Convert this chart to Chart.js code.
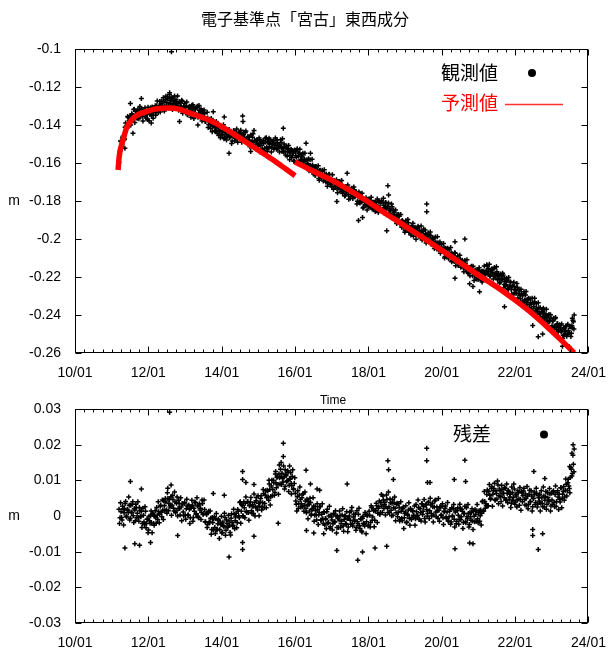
<!DOCTYPE html>
<html><head><meta charset="utf-8">
<script src="https://cdn.jsdelivr.net/npm/chart.js@4/dist/chart.umd.min.js"></script>
<style>
html,body{margin:0;padding:0;background:#fff;}
#wrap{position:relative;width:610px;height:648px;overflow:hidden;}
canvas{position:absolute;left:0;}
#c1{top:0;} #c2{top:392px;}
</style></head><body>
<div id="wrap"><canvas id="c1" width="610" height="392"></canvas><canvas id="c2" width="610" height="256"></canvas></div>
<script>
// ---- axis definitions ----
const xMin = 2010, xMax = 2024, xStep = 2;
const topMin = -0.26, topMax = -0.1, topStep = 0.02;
const resMin = -0.03, resMax = 0.03, resStep = 0.01;

// ---- observation sampling: two interleaved series of samples (decimal year) ----
const obsStep = 1/36;
const obsStartA = 2011.2;
const obsStartB = 2011.2139;

// observed east-west component (m), upper panel, series A
const obsValuesA = [
-.1598,-.1538,-.1487,-.1502,-.1459,-.1477,-.1412,-.1407,-.1407,-.1360,-.1378,-.1353,-.1382,-.1347,-.1368,-.1317,-.1350,-.1330,-.1365,-.1336,-.1320,-.1347,-.1317,-.1354,-.1334,-.1323,-.1355,-.1339,-.1371,-.1333,-.1343,-.1309,-.1351,-.1326,-.1335,-.1308,
-.1349,-.1299,-.1310,-.1317,-.1276,-.1298,-.1277,-.1310,-.1277,-.1301,-.1249,-.1283,-.1262,-.1299,-.1273,-.1259,-.1287,-.1258,-.1295,-.1276,-.1267,-.1299,-.1284,-.1317,-.1284,-.1301,-.1275,-.1323,-.1306,-.1321,-.1300,-.1346,-.1327,-.1301,-.1338,-.1315,
-.1328,-.1311,-.1348,-.1319,-.1348,-.1301,-.1339,-.1322,-.1359,-.1336,-.1328,-.1362,-.1339,-.1381,-.1367,-.1363,-.1398,-.1384,-.1418,-.1387,-.1408,-.1382,-.1431,-.1414,-.1430,-.1409,-.1455,-.1437,-.1414,-.1452,-.1430,-.1472,-.1430,-.1447,-.1461,-.1428,
-.1424,-.1462,-.1446,-.1484,-.1458,-.1446,-.1471,-.1440,-.1474,-.1452,-.1438,-.1467,-.1449,-.1482,-.1450,-.1467,-.1440,-.1488,-.1470,-.1484,-.1463,-.1508,-.1490,-.1465,-.1504,-.1482,-.1524,-.1481,-.1498,-.1512,-.1478,-.1507,-.1490,-.1526,-.1497,-.1524,
-.1489,-.1517,-.1487,-.1522,-.1500,-.1488,-.1517,-.1498,-.1528,-.1492,-.1507,-.1478,-.1524,-.1503,-.1515,-.1492,-.1539,-.1522,-.1500,-.1541,-.1521,-.1565,-.1525,-.1543,-.1560,-.1529,-.1561,-.1548,-.1589,-.1541,-.1570,-.1525,-.1564,-.1548,-.1587,-.1565,
-.1555,-.1591,-.1579,-.1614,-.1584,-.1604,-.1578,-.1629,-.1613,-.1629,-.1610,-.1658,-.1640,-.1618,-.1657,-.1637,-.1681,-.1639,-.1659,-.1674,-.1643,-.1674,-.1660,-.1700,-.1674,-.1705,-.1661,-.1700,-.1686,-.1726,-.1703,-.1692,-.1722,-.1695,-.1735,-.1717,
-.1729,-.1702,-.1750,-.1733,-.1748,-.1727,-.1771,-.1752,-.1727,-.1766,-.1744,-.1785,-.1742,-.1759,-.1774,-.1742,-.1773,-.1761,-.1801,-.1776,-.1808,-.1765,-.1805,-.1793,-.1833,-.1807,-.1793,-.1821,-.1791,-.1829,-.1809,-.1798,-.1830,-.1812,-.1843,-.1807,
-.1805,-.1848,-.1826,-.1800,-.1836,-.1812,-.1852,-.1807,-.1824,-.1840,-.1809,-.1841,-.1827,-.1868,-.1842,-.1874,-.1830,-.1870,-.1858,-.1900,-.1880,-.1871,-.1904,-.1880,-.1922,-.1908,-.1902,-.1938,-.1923,-.1956,-.1923,-.1941,-.1914,-.1963,-.1944,-.1960,
-.1944,-.1986,-.1943,-.1961,-.1974,-.1941,-.1970,-.1954,-.1992,-.1964,-.1993,-.1948,-.1987,-.1973,-.2013,-.1989,-.1978,-.2008,-.1982,-.2022,-.2004,-.1996,-.2030,-.2017,-.2052,-.2020,-.2040,-.2016,-.2065,-.2049,-.2065,-.2045,-.2092,-.2074,-.2052,-.2091,
-.2056,-.2088,-.2073,-.2114,-.2087,-.2118,-.2075,-.2114,-.2101,-.2140,-.2118,-.2107,-.2137,-.2112,-.2152,-.2135,-.2127,-.2161,-.2148,-.2182,-.2150,-.2170,-.2143,-.2193,-.2175,-.2188,-.2166,-.2211,-.2191,-.2166,-.2204,-.2182,-.2220,-.2170,-.2179,-.2185,
-.2186,-.2136,-.2174,-.2157,-.2195,-.2169,-.2156,-.2184,-.2157,-.2198,-.2180,-.2172,-.2207,-.2193,-.2228,-.2195,-.2215,-.2189,-.2239,-.2222,-.2239,-.2219,-.2266,-.2249,-.2226,-.2266,-.2247,-.2290,-.2250,-.2269,-.2286,-.2254,-.2287,-.2273,-.2314,-.2288,
-.2299,-.2288,-.2321,-.2295,-.2336,-.2319,-.2312,-.2346,-.2334,-.2368,-.2336,-.2356,-.2331,-.2381,-.2365,-.2381,-.2362,-.2409,-.2393,-.2371,-.2411,-.2392,-.2435,-.2395,-.2414,-.2430,-.2398,-.2430,-.2416,-.2457,-.2432,-.2463,-.2419,-.2460,-.2446,-.2488,
-.2463,-.2455,-.2490,-.2476,-.2507,-.2472,-.2487,-.2457,-.2503,-.2481,-.2494,-.2462,-.2496,-.2468,-.2435
];
// observed, series B (interleaved samples)
const obsValuesB = [
-.1565,-.1484,-.1522,-.1466,-.1462,-.1474,-.1390,-.1413,-.1355,-.1408,-.1367,-.1400,-.1341,-.1360,-.1318,-.1387,-.1328,-.1362,-.1317,-.1367,-.1302,-.1350,-.1318,-.1379,-.1332,-.1309,-.1363,-.1345,-.1307,-.1377,-.1324,-.1344,-.1305,-.1365,-.1322,-.1299,
-.1331,-.1274,-.1334,-.1297,-.1332,-.1275,-.1296,-.1257,-.1326,-.1267,-.1299,-.1253,-.1302,-.1239,-.1288,-.1257,-.1318,-.1271,-.1248,-.1302,-.1285,-.1247,-.1322,-.1277,-.1304,-.1270,-.1338,-.1301,-.1285,-.1328,-.1279,-.1343,-.1309,-.1326,-.1359,-.1296,
-.1293,-.1366,-.1311,-.1348,-.1306,-.1359,-.1297,-.1346,-.1315,-.1379,-.1338,-.1321,-.1380,-.1366,-.1333,-.1413,-.1370,-.1398,-.1366,-.1435,-.1401,-.1385,-.1429,-.1381,-.1445,-.1412,-.1432,-.1467,-.1407,-.1449,-.1399,-.1466,-.1437,-.1479,-.1429,-.1456,
-.1466,-.1436,-.1498,-.1452,-.1429,-.1484,-.1462,-.1421,-.1491,-.1442,-.1464,-.1427,-.1491,-.1454,-.1438,-.1480,-.1431,-.1494,-.1461,-.1479,-.1514,-.1453,-.1496,-.1446,-.1513,-.1483,-.1526,-.1476,-.1502,-.1468,-.1542,-.1488,-.1525,-.1481,-.1534,-.1470,
-.1467,-.1540,-.1492,-.1515,-.1478,-.1542,-.1501,-.1480,-.1520,-.1468,-.1528,-.1493,-.1510,-.1542,-.1478,-.1519,-.1472,-.1540,-.1513,-.1558,-.1510,-.1539,-.1508,-.1583,-.1532,-.1573,-.1534,-.1591,-.1532,-.1562,-.1532,-.1595,-.1550,-.1528,-.1583,-.1568,
-.1549,-.1595,-.1549,-.1614,-.1584,-.1605,-.1641,-.1583,-.1628,-.1580,-.1649,-.1623,-.1666,-.1619,-.1646,-.1614,-.1691,-.1638,-.1679,-.1638,-.1695,-.1635,-.1687,-.1659,-.1723,-.1679,-.1659,-.1714,-.1698,-.1662,-.1738,-.1694,-.1721,-.1688,-.1756,-.1719,
-.1698,-.1741,-.1692,-.1760,-.1731,-.1774,-.1724,-.1750,-.1716,-.1791,-.1737,-.1775,-.1733,-.1787,-.1726,-.1778,-.1750,-.1816,-.1772,-.1753,-.1810,-.1795,-.1759,-.1837,-.1793,-.1818,-.1783,-.1848,-.1808,-.1790,-.1831,-.1780,-.1842,-.1806,-.1823,-.1855,
-.1824,-.1789,-.1860,-.1805,-.1841,-.1797,-.1850,-.1786,-.1836,-.1808,-.1873,-.1830,-.1810,-.1867,-.1851,-.1816,-.1892,-.1848,-.1878,-.1848,-.1919,-.1885,-.1871,-.1917,-.1871,-.1938,-.1908,-.1930,-.1965,-.1904,-.1947,-.1898,-.1965,-.1937,-.1979,-.1931,
-.1917,-.1968,-.1938,-.2001,-.1954,-.1933,-.1987,-.1969,-.1931,-.2005,-.1959,-.1986,-.1953,-.2021,-.1985,-.1968,-.2012,-.1963,-.2027,-.1995,-.2014,-.2050,-.1990,-.2035,-.1988,-.2056,-.2029,-.2075,-.2027,-.2056,-.2024,-.2100,-.2049,-.2088,-.2049,-.2104,
-.2080,-.2045,-.2120,-.2077,-.2104,-.2072,-.2141,-.2104,-.2089,-.2132,-.2085,-.2149,-.2116,-.2137,-.2173,-.2113,-.2157,-.2109,-.2178,-.2150,-.2194,-.2147,-.2174,-.2143,-.2218,-.2163,-.2201,-.2160,-.2213,-.2151,-.2201,-.2171,-.2226,-.2172,-.2142,-.2188,
-.2164,-.2142,-.2184,-.2133,-.2195,-.2160,-.2178,-.2211,-.2150,-.2195,-.2146,-.2214,-.2187,-.2231,-.2184,-.2211,-.2180,-.2256,-.2205,-.2245,-.2206,-.2262,-.2203,-.2255,-.2227,-.2291,-.2248,-.2228,-.2285,-.2269,-.2234,-.2310,-.2268,-.2296,-.2265,-.2333,
-.2338,-.2278,-.2324,-.2276,-.2345,-.2317,-.2362,-.2314,-.2344,-.2312,-.2388,-.2337,-.2378,-.2339,-.2396,-.2336,-.2389,-.2362,-.2427,-.2384,-.2364,-.2421,-.2405,-.2370,-.2446,-.2402,-.2430,-.2399,-.2467,-.2432,-.2417,-.2461,-.2413,-.2478,-.2446,-.2468,
-.2451,-.2480,-.2448,-.2523,-.2467,-.2504,-.2460,-.2512,-.2449,-.2496,-.2461,-.2513,-.2457,-.2427,-.2474
];

// isolated observed points away from the band
const obsOutT = [2011.36,2011.51,2011.58,2011.81,2012.08,2012.58,2012.63,2012.85,2013.35,2013.77,2014.07,2014.20,2014.57,2014.58,2014.79,2014.88,2015.29,2015.68,2016.30,2016.42,2017.14,2017.42,2017.73,2017.84,2018.50,2018.53,2018.55,2019.59,2019.59,2020.36,2020.36,2020.63,2020.76,2020.85,2021.03,2021.71,2022.48,2022.53,2022.63,2022.75,2022.79,2023.29,2023.47,2023.56,2023.61];
const obsOutV = [-.1522,-.1287,-.1444,-.1260,-.1390,-.1230,-.1015,-.1382,-.1400,-.1330,-.1358,-.1549,-.1352,-.1382,-.1540,-.1429,-.1470,-.1417,-.1496,-.1549,-.1802,-.1654,-.1903,-.1887,-.1956,-.1720,-.1768,-.1816,-.1856,-.2014,-.2206,-.2000,-.2235,-.2250,-.2277,-.2356,-.2455,-.2312,-.2514,-.2500,-.2373,-.2565,-.2566,-.2417,-.2400];

// predicted curve: segment before and after 2016/01
const pred1T = [2011.175,2011.20,2011.23,2011.27,2011.33,2011.40,2011.50,2011.60,2011.75,2011.90,2012.10,2012.30,2012.50,2012.70,2012.90,2013.10,2013.40,2013.70,2014.00,2014.30,2014.60,2014.90,2015.20,2015.50,2015.75,2016.00];
const pred1V = [-.1637,-.1575,-.1535,-.1505,-.1465,-.1418,-.1385,-.1362,-.1342,-.1332,-.1320,-.1313,-.1310,-.1312,-.1320,-.1335,-.1355,-.1378,-.1408,-.1444,-.1482,-.1520,-.1558,-.1597,-.1632,-.1667];
const pred2T = [2016.00,2016.50,2017.00,2017.50,2018.00,2018.50,2019.00,2019.50,2020.00,2020.50,2021.00,2021.50,2022.00,2022.50,2023.00,2023.30,2023.61];
const pred2V = [-.1595,-.1643,-.1690,-.1745,-.1805,-.1870,-.1932,-.1995,-.2060,-.2125,-.2190,-.2252,-.2322,-.2398,-.2485,-.2540,-.2600];

// residuals (m), lower panel, series A
const resValuesA = [
.0019,-.0005,.0012,-.0011,.0020,.0009,.0035,.0000,.0019,.0010,.0030,-.0006,.0011,.0033,.0001,.0021,-.0013,.0023,.0008,-.0004,.0024,-.0001,.0013,-.0021,.0002,-.0024,.0013,-.0021,-.0009,-.0039,-.0013,.0001,-.0020,.0008,-.0021,-.0001,
-.0005,.0024,-.0010,.0012,.0005,.0030,-.0002,.0017,.0043,.0015,.0039,.0008,.0049,.0035,.0025,.0054,.0030,.0046,.0014,.0039,.0014,.0053,.0021,.0035,.0003,.0025,.0035,.0011,.0035,.0003,.0020,.0028,.0003,.0019,-.0005,.0026,
.0030,-.0004,.0013,.0037,.0006,.0028,-.0005,.0034,.0022,.0010,.0035,.0007,.0018,-.0017,.0004,-.0024,.0013,-.0019,-.0006,-.0038,-.0018,-.0008,-.0032,-.0007,-.0039,-.0022,-.0013,-.0038,-.0024,-.0048,-.0017,-.0030,-.0004,-.0040,-.0021,-.0031,
-.0014,-.0046,-.0006,-.0018,-.0026,.0005,-.0013,.0008,-.0018,.0013,-.0005,.0040,.0013,.0029,-.0001,.0023,.0036,.0013,.0040,.0010,.0029,.0039,.0015,.0031,.0007,.0038,.0026,.0052,.0017,.0036,.0027,.0049,.0017,.0037,.0063,.0035,
.0071,.0051,.0070,.0044,.0074,.0055,.0100,.0074,.0093,.0066,.0093,.0108,.0088,.0118,.0090,.0111,.0120,.0095,.0109,.0083,.0113,.0099,.0123,.0086,.0103,.0091,.0111,.0075,.0091,.0064,.0033,.0054,.0021,.0059,.0046,.0034,
.0026,.0063,.0030,.0042,.0009,.0030,.0040,.0014,.0038,.0005,.0021,.0028,.0002,.0015,-.0011,.0018,.0003,.0027,-.0012,.0005,-.0008,.0012,-.0025,-.0009,.0012,-.0020,.0000,-.0034,.0003,-.0011,-.0022,.0007,-.0016,.0000,-.0032,-.0006,
-.0011,.0001,-.0022,.0003,-.0028,-.0010,.0001,-.0023,-.0007,-.0031,.0000,-.0012,.0014,-.0022,-.0003,-.0015,.0005,-.0032,-.0016,.0005,-.0027,-.0008,-.0042,-.0006,-.0020,-.0028,.0005,-.0016,.0003,-.0026,.0002,-.0018,.0024,-.0003,.0015,-.0012,
.0016,.0029,.0008,.0026,.0004,.0038,.0028,.0056,.0021,.0038,.0026,.0046,.0010,.0026,.0048,.0016,.0036,.0002,.0038,.0022,.0009,.0036,.0010,.0024,-.0010,.0013,-.0013,.0025,-.0005,.0011,-.0019,.0005,.0017,-.0006,.0021,-.0010,
.0014,.0002,.0028,-.0008,.0012,.0002,.0024,-.0009,.0009,.0034,.0004,.0026,-.0007,.0031,.0018,.0008,.0038,.0015,.0031,.0000,.0026,.0003,.0042,.0011,.0025,-.0006,.0016,.0026,.0002,.0027,-.0005,.0013,.0022,-.0003,.0011,-.0014,
-.0002,.0018,-.0017,-.0001,.0022,-.0009,.0011,-.0022,.0015,.0002,-.0009,.0021,-.0002,.0013,-.0018,.0007,-.0016,.0023,-.0008,.0007,-.0024,-.0002,.0010,-.0014,.0013,-.0016,.0004,.0015,-.0008,.0009,-.0015,.0017,.0008,.0042,.0014,.0041,
.0034,.0060,.0029,.0069,.0058,.0050,.0082,.0061,.0077,.0045,.0071,.0048,.0087,.0057,.0071,.0041,.0063,.0075,.0051,.0077,.0045,.0063,.0072,.0047,.0061,.0036,.0065,.0052,.0076,.0039,.0056,.0045,.0065,.0030,.0046,.0069,
.0040,.0070,.0046,.0062,.0030,.0056,.0032,.0072,.0041,.0056,.0026,.0049,.0061,.0038,.0064,.0033,.0051,.0061,.0036,.0051,.0026,.0056,.0044,.0069,.0033,.0051,.0041,.0062,.0028,.0045,.0068,.0038,.0060,.0027,.0066,.0053,
.0061,.0039,.0079,.0050,.0069,.0044,.0072,.0089,.0071,.0103,.0077,.0108,.0131,.0119,.0145
];
// residuals, series B (interleaved samples)
const resValuesB = [
-.0021,.0037,-.0004,.0027,-.0025,.0019,.0041,-.0003,.0016,.0053,-.0011,.0030,.0009,.0040,-.0018,.0017,.0033,-.0004,.0040,-.0015,.0015,-.0002,-.0032,.0022,-.0017,.0026,-.0033,-.0009,-.0047,-.0001,-.0020,.0014,-.0047,.0004,-.0026,.0015,
-.0020,.0002,.0040,-.0019,.0027,.0010,.0045,-.0010,.0029,.0049,.0017,.0065,.0015,.0046,.0031,.0002,.0058,.0022,.0067,.0010,.0036,.0000,.0044,.0021,.0051,-.0013,.0034,.0001,.0038,-.0009,.0047,.0002,.0031,-.0021,.0022,.0044,
-.0015,.0022,.0039,.0005,.0051,-.0001,.0031,.0017,-.0010,.0045,.0004,.0045,-.0016,.0008,-.0032,.0009,-.0016,.0014,-.0051,-.0004,-.0039,-.0002,-.0049,.0007,-.0037,-.0009,-.0063,-.0021,-.0001,-.0046,-.0027,.0008,-.0054,-.0011,-.0031,.0002,
-.0026,-.0053,.0006,-.0029,.0019,-.0036,-.0003,-.0033,.0018,.0001,.0038,-.0020,.0032,.0001,.0040,-.0005,.0053,.0010,.0040,-.0012,.0031,.0052,.0007,.0026,.0062,.0000,.0043,.0023,.0057,.0001,.0039,.0057,.0025,.0074,.0024,.0059,
.0023,.0072,.0053,.0090,.0031,.0084,.0057,.0100,.0058,.0118,.0079,.0111,.0061,.0107,.0131,.0088,.0105,.0140,.0076,.0117,.0096,.0127,.0069,.0105,.0121,.0085,.0130,.0076,.0107,.0042,.0014,.0071,.0035,.0081,.0025,.0051,
.0062,.0013,.0067,.0021,.0047,-.0008,.0032,.0050,.0002,.0018,.0051,-.0015,.0026,.0003,.0034,-.0024,.0010,.0026,-.0011,.0034,-.0021,.0010,-.0007,-.0036,.0019,-.0018,.0027,-.0030,-.0003,-.0039,.0006,-.0017,.0015,-.0048,.0000,-.0032,
.0014,-.0032,-.0014,.0020,-.0043,-.0001,-.0021,.0012,-.0044,-.0007,.0011,-.0023,.0024,-.0028,.0005,-.0011,-.0040,.0015,-.0022,.0022,-.0035,-.0009,-.0045,-.0001,-.0024,.0010,-.0050,.0001,-.0028,.0013,-.0031,.0029,-.0012,.0020,-.0030,.0015,
.0036,-.0018,.0022,.0042,.0010,.0060,.0010,.0045,.0032,.0003,.0059,.0022,.0067,.0010,.0037,.0001,.0046,.0023,.0053,-.0013,.0033,-.0002,.0034,-.0014,.0040,-.0006,.0020,-.0035,.0007,.0029,-.0017,.0002,.0037,-.0026,.0017,-.0004,
.0015,.0001,-.0026,.0032,-.0002,.0045,-.0010,.0020,-.0014,.0034,.0013,.0046,-.0017,.0032,.0000,.0039,-.0007,.0050,.0007,.0036,-.0017,.0025,.0045,-.0002,.0015,.0049,-.0015,.0025,.0003,.0034,-.0024,.0012,.0028,-.0007,.0038,-.0015,
.0013,-.0023,.0023,.0000,.0032,-.0031,.0017,-.0015,.0023,-.0023,.0033,-.0010,.0019,-.0035,.0007,.0027,-.0019,-.0002,.0032,-.0031,.0010,-.0012,.0020,-.0038,-.0001,.0018,-.0015,.0032,-.0019,.0015,.0001,-.0025,.0040,.0014,.0069,.0022,
.0029,.0073,.0029,.0088,.0047,.0078,.0027,.0071,.0092,.0045,.0063,.0098,.0034,.0076,.0054,.0086,.0028,.0064,.0080,.0045,.0090,.0037,.0068,.0053,.0024,.0081,.0044,.0090,.0033,.0061,.0025,.0071,.0048,.0080,.0016,.0065,
.0057,.0078,.0031,.0049,.0083,.0020,.0061,.0040,.0071,.0014,.0050,.0067,.0032,.0078,.0025,.0057,.0042,.0014,.0071,.0035,.0081,.0025,.0054,.0019,.0066,.0044,.0077,.0014,.0064,.0032,.0071,.0026,.0084,.0041,.0071,.0018,
.0047,.0079,.0023,.0061,.0083,.0053,.0104,.0056,.0093,.0084,.0065,.0135,.0112,.0170,.0124
];

// isolated residual points
const resOutT = [2011.36,2011.51,2011.63,2011.76,2011.81,2012.06,2012.53,2012.58,2012.62,2012.80,2013.77,2014.07,2014.20,2014.57,2014.57,2014.57,2014.57,2014.66,2014.88,2014.88,2015.29,2015.47,2015.54,2015.57,2015.62,2015.68,2015.68,2015.73,2015.85,2015.90,2016.30,2016.31,2016.42,2016.51,2016.60,2016.67,2016.78,2017.14,2017.42,2017.71,2017.84,2018.18,2018.50,2018.53,2018.55,2018.68,2019.59,2019.59,2019.61,2019.68,2020.34,2020.36,2020.63,2020.65,2020.76,2020.85,2022.48,2022.48,2022.51,2022.63,2022.75,2022.81,2023.49,2023.55,2023.58,2023.61];
const resOutV = [-.0090,.0097,-.0078,-.0082,.0076,-.0074,.0078,.0291,.0087,-.0055,.0063,.0058,-.0115,.0125,.0102,-.0094,-.0074,.0094,.0088,-.0057,.0100,.0125,-.0020,.0143,.0150,.0204,.0167,.0130,.0140,.0062,.0128,-.0041,.0090,-.0048,.0076,.0072,-.0050,-.0097,.0090,-.0124,-.0101,-.0090,-.0085,.0155,.0130,.0102,.0190,.0155,.0094,.0094,.0102,-.0092,.0156,.0097,-.0076,-.0078,-.0038,-.0055,.0125,-.0094,-.0050,.0105,.0139,.0176,.0200,.0188];

// ---- texts ----
const titleText = '電子基準点「宮古」東西成分';
const obsLabel = '観測値', predLabel = '予測値', resLabel = '残差';
const unitLabel = 'm', timeLabel = 'Time';

const LATIN = '"Liberation Sans", Arial, sans-serif';
const CJK = '"Noto Sans CJK JP", "Noto Sans", sans-serif';

function pts(ts, vs){ return ts.map((t,i)=>({x:t, y:vs[i]})); }
function sampled(start, vs){ return vs.map((v,i)=>({x: start + i*obsStep, y: v})); }

function fmtY(v){ return String(parseFloat(Number(v).toFixed(2))); }
function fmtX(v){ return String(Math.round(v)%100).padStart(2,'0') + '/01'; }

function xAxis(h){
  return {type:'linear', min:xMin, max:xMax,
    afterFit(s){ s.height = h; },
    grid:{display:false}, border:{display:false},
    ticks:{stepSize:xStep, padding:4, color:'#000', autoSkip:false, maxRotation:0,
      font:{family:LATIN, size:14}, callback: fmtX}};
}
function yAxis(min,max,step){
  return {type:'linear', min:min, max:max,
    afterFit(s){ s.width = 75; },
    grid:{display:false}, border:{display:false},
    ticks:{stepSize:step, padding:6, color:'#000', autoSkip:false,
      font:{family:LATIN, size:14}, callback: fmtY}};
}

// frame with inward tick marks, placed from the scales
const framePlugin = {
  id:'frame',
  afterDatasetsDraw(chart){
    const {ctx, chartArea:a} = chart;
    const xs = chart.scales.x, ys = chart.scales.y;
    ctx.save();
    ctx.strokeStyle = '#000'; ctx.lineWidth = 1;
    const L = Math.round(a.left)+0.5, R = Math.round(a.right)-0.5;
    const T = Math.round(a.top)+0.5, B = Math.round(a.bottom)-0.5;
    ctx.strokeRect(L, T, R-L, B-T);
    ctx.beginPath();
    const nMinor = Math.round((xs.max - xs.min)*4);
    for (let k=0; k<=nMinor; k++){
      const t = xs.min + k/4;
      const px = Math.round(xs.getPixelForValue(t))+0.5;
      const len = (k % 8 === 0) ? 6 : 3;
      ctx.moveTo(px, B); ctx.lineTo(px, B-len);
      ctx.moveTo(px, T); ctx.lineTo(px, T+len);
    }
    ys.ticks.forEach(tk=>{
      const py = Math.round(ys.getPixelForValue(tk.value))+0.5;
      ctx.moveTo(L, py); ctx.lineTo(L+6, py);
      ctx.moveTo(R, py); ctx.lineTo(R-6, py);
    });
    ctx.stroke();
    ctx.restore();
  }
};

function textPlugin(name, items){
  return {id:name, afterDraw(chart){
    const ctx = chart.ctx; ctx.save();
    items.forEach(it=>{
      if (it.kind === 'text'){
        ctx.font = it.font; ctx.fillStyle = it.color || '#000';
        ctx.textAlign = it.align || 'center'; ctx.textBaseline = 'middle';
        ctx.fillText(it.text, it.x, it.y);
      } else if (it.kind === 'dot'){
        ctx.fillStyle = it.color; ctx.beginPath(); ctx.arc(it.x, it.y, it.r, 0, Math.PI*2); ctx.fill();
      } else if (it.kind === 'line'){
        ctx.strokeStyle = it.color; ctx.lineWidth = it.w; ctx.beginPath();
        ctx.moveTo(it.x1, it.y); ctx.lineTo(it.x2, it.y); ctx.stroke();
      }
    });
    ctx.restore();
  }};
}

const common = {responsive:false, animation:false, events:[], devicePixelRatio:1,
  plugins:{legend:{display:false}, tooltip:{enabled:false}, title:{display:false}}};

const obsStyle = {pointStyle:'cross', pointRadius:2.5, borderWidth:1.5, borderColor:'#000', backgroundColor:'#000'};
const predStyle = {showLine:true, pointRadius:0, borderColor:'#ff0000', borderWidth:5.5, cubicInterpolationMode:'monotone', fill:false};

new Chart(document.getElementById('c1'), {
  type:'scatter',
  data:{datasets:[
    Object.assign({label:predLabel, data:pts(pred1T,pred1V)}, predStyle),
    Object.assign({label:predLabel, data:pts(pred2T,pred2V)}, predStyle),
    Object.assign({label:obsLabel, data:sampled(obsStartA, obsValuesA)
      .concat(sampled(obsStartB, obsValuesB), pts(obsOutT,obsOutV))}, obsStyle)
  ]},
  options:Object.assign({}, common, {
    layout:{padding:{left:0, right:19, top:49, bottom:0}},
    scales:{x:xAxis(39), y:yAxis(topMin, topMax, topStep)}
  }),
  plugins:[framePlugin, textPlugin('texts1', [
    {kind:'text', text:titleText, x:305, y:19, font:'16px '+CJK},
    {kind:'text', text:unitLabel, x:14, y:201, font:'14px '+LATIN},
    {kind:'text', text:obsLabel, x:498, y:73, align:'right', font:'19px '+CJK},
    {kind:'dot', x:532, y:73, r:4, color:'#000'},
    {kind:'text', text:predLabel, x:498, y:103, align:'right', font:'19px '+CJK, color:'#ff0000'},
    {kind:'line', x1:505, x2:563, y:104.5, w:1.5, color:'#ff3030'}
  ])]
});

new Chart(document.getElementById('c2'), {
  type:'scatter',
  data:{datasets:[
    Object.assign({label:resLabel, data:sampled(obsStartA, resValuesA)
      .concat(sampled(obsStartB, resValuesB), pts(resOutT,resOutV))}, obsStyle)
  ]},
  options:Object.assign({}, common, {
    layout:{padding:{left:0, right:19, top:17, bottom:0}},
    scales:{x:xAxis(25), y:yAxis(resMin, resMax, resStep)}
  }),
  plugins:[framePlugin, textPlugin('texts2', [
    {kind:'text', text:timeLabel, x:333, y:9, font:'12px '+LATIN},
    {kind:'text', text:unitLabel, x:14, y:124, font:'14px '+LATIN},
    {kind:'text', text:resLabel, x:491, y:42, align:'right', font:'19px '+CJK},
    {kind:'dot', x:544, y:42.5, r:4, color:'#000'}
  ])]
});
</script>
</body></html>
